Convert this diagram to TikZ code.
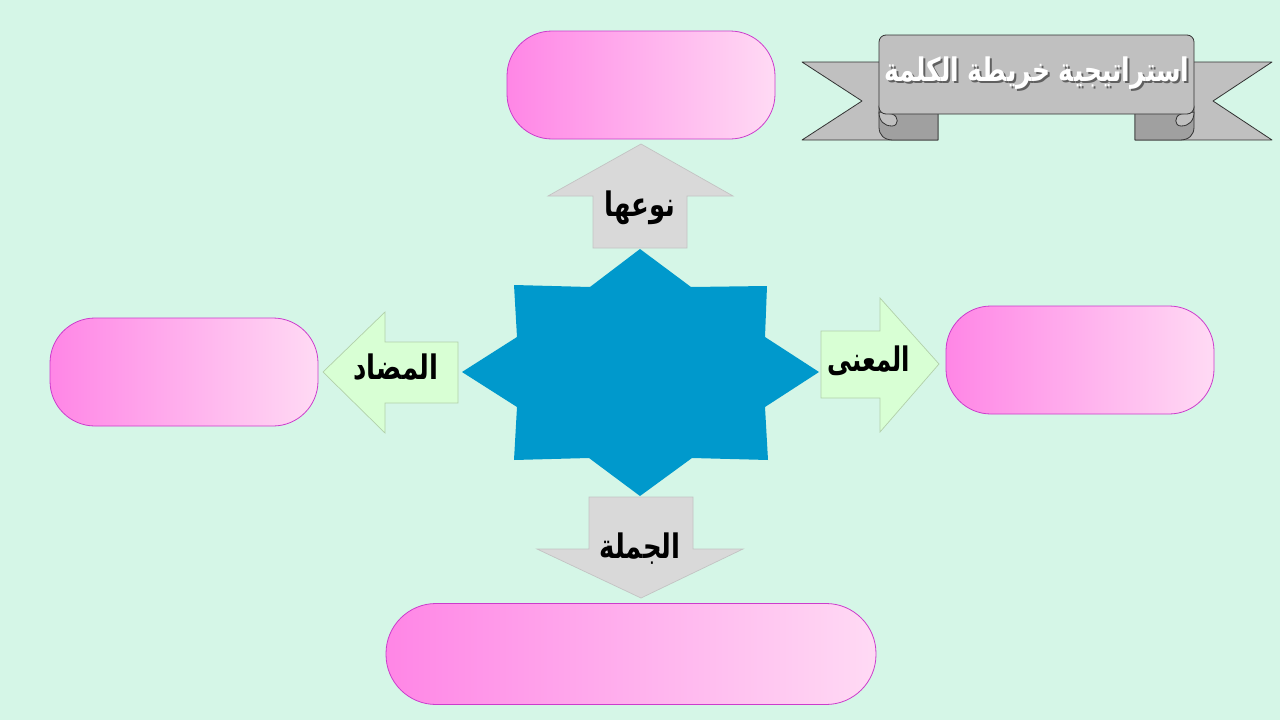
\documentclass[tikz,border=0pt]{standalone}
\usepackage{fontspec}
\newfontfamily\arabicfont[Script=Arabic]{DejaVu Sans}
\TeXXeTstate=1

\definecolor{bgmint}{RGB}{213,246,231}
\definecolor{pinkdeep}{RGB}{255,134,230}
\definecolor{pinklight}{RGB}{255,218,244}
\definecolor{pinkline}{RGB}{204,60,204}
\definecolor{starblue}{RGB}{0,153,204}
\definecolor{arrowgray}{RGB}{217,217,217}
\definecolor{arrowgrayline}{RGB}{195,195,195}
\definecolor{arrowgreen}{RGB}{216,255,212}
\definecolor{arrowgreenline}{RGB}{178,208,170}
\definecolor{bannergray}{RGB}{192,192,192}
\definecolor{bannerdark}{RGB}{160,160,160}
\definecolor{bannerline}{RGB}{50,50,50}

\newcommand{\tallword}[1]{\scalebox{1}[1.3]{\beginR #1\endR}}

\tikzset{
  pill/.style={draw=pinkline, line width=0.8pt, left color=pinkdeep, right color=pinklight, rounded corners=45pt},
  grayarrow/.style={fill=arrowgray, draw=arrowgrayline, line width=0.7pt},
  greenarrow/.style={fill=arrowgreen, draw=arrowgreenline, line width=0.7pt},
  wordlabel/.style={font=\arabicfont\bfseries\fontsize{26}{30}\selectfont, text=black, inner sep=0pt},
  bannerpart/.style={draw=bannerline, line width=0.8pt, line join=round},
  titlelabel/.style={font=\arabicfont\bfseries\fontsize{25}{30}\selectfont, inner sep=0pt},
}

\begin{document}
\begin{tikzpicture}[x=1pt, y=-1pt]
  % Background
  \fill[bgmint] (0,0) rectangle (1280,720);
  \useasboundingbox (0,0) rectangle (1280,720);

  % Empty boxes
  \node[pill, minimum width=268pt, minimum height=108pt] (typebox) at (641,85) {};
  \node[pill, minimum width=268pt, minimum height=108pt] (meaningbox) at (1080,360) {};
  \node[pill, minimum width=268pt, minimum height=108pt] (oppositebox) at (184,372) {};
  \node[pill, rounded corners=50pt, minimum width=490pt, minimum height=101pt] (sentencebox) at (631,654) {};

  % Star in the middle
  \fill[starblue] (640,249) -- (691,287) -- (767,286) -- (765,337) -- (819,372) -- (765,407)
    -- (768,460) -- (692,458) -- (640,496) -- (589,458) -- (514,460) -- (517,407)
    -- (462,372) -- (517,337) -- (514,285) -- (590,287) -- cycle;

  % Arrow up
  \draw[grayarrow] (593,248) -- (593,196) -- (548,196) -- (641,144) -- (733,196) -- (687,196) -- (687,248) -- cycle;
  \node[wordlabel] (typelbl) at (640,208) {\tallword{نوعها}};

  % Arrow down
  \draw[grayarrow] (589,497) -- (693,497) -- (693,549) -- (743,549) -- (641,598) -- (537,549) -- (589,549) -- cycle;
  \node[wordlabel] (sentencelbl) at (640,549) {\tallword{الجملة}};

  % Arrow left
  \draw[greenarrow] (458,342) -- (385,342) -- (385,312) -- (323,372) -- (385,433) -- (385,403) -- (458,403) -- cycle;
  \node[wordlabel] (oppositelbl) at (396,367) {\tallword{المضاد}};

  % Arrow right
  \draw[greenarrow] (821,331) -- (880,331) -- (880,298) -- (939,364) -- (880,432) -- (880,398) -- (821,398) -- cycle;
  \node[wordlabel] (meaninglbl) at (869,361) {\scalebox{0.94}[1]{\tallword{المعنى}}};

  % Banner tails
  \draw[bannerpart, fill=bannergray] (802,62) -- (938,62) -- (938,140) -- (802,140) -- (862,101) -- cycle;
  \draw[bannerpart, fill=bannergray] (1272,62) -- (1135,62) -- (1135,140) -- (1272,140) -- (1213,101) -- cycle;

  % Banner folds
  \draw[bannerpart, fill=bannerdark] (879,106) -- (938,112) -- (938,140) -- (893,140)
    .. controls (884,140) and (879,135) .. (879,127) -- cycle;
  \draw[bannerpart, fill=bannergray] (879,112) .. controls (879,121) and (884,126) .. (892,126)
    .. controls (899,126) and (899,116) .. (892,114) -- cycle;
  \draw[bannerpart, fill=bannerdark] (1194,106) -- (1135,112) -- (1135,140) -- (1180,140)
    .. controls (1189,140) and (1194,135) .. (1194,127) -- cycle;
  \draw[bannerpart, fill=bannergray] (1194,112) .. controls (1194,121) and (1189,126) .. (1181,126)
    .. controls (1174,126) and (1174,116) .. (1181,114) -- cycle;

  % Banner band
  \draw[bannerpart, fill=bannergray, rounded corners=7pt] (879,35) rectangle (1194,114);
  \node[titlelabel, text=bannerdark!60!black] (titleshadow) at (1039,75) {\tallword{استراتيجية خريطة الكلمة}};
  \node[titlelabel, text=white] (title) at (1037,73) {\tallword{استراتيجية خريطة الكلمة}};
\end{tikzpicture}
\end{document}
